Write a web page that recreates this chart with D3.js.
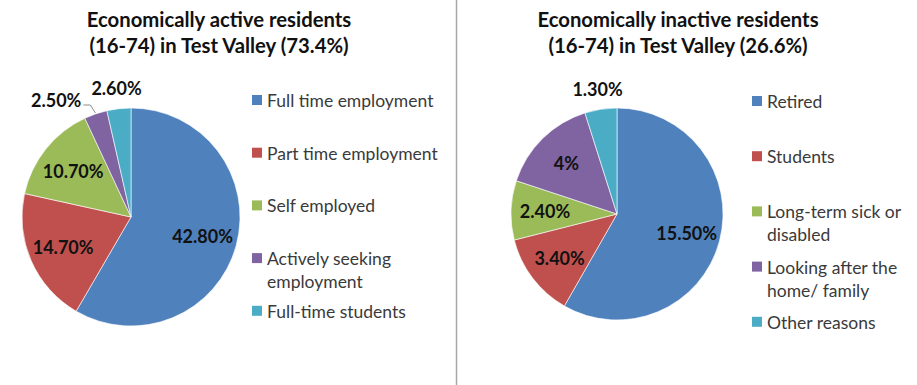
<!DOCTYPE html>
<html>
<head>
<meta charset="utf-8">
<script src="https://cdn.jsdelivr.net/npm/d3@7"></script>
<style>
  body { margin: 0; background: #fff; }
  svg { display: block; font-family: Lato, "Open Sans", sans-serif; }
</style>
</head>
<body>
<svg id="chart" width="917" height="385"></svg>
<script>
// Economically active residents
const activeTitle = ["Economically active residents", "(16-74) in Test Valley (73.4%)"];
const activeCategories = ["Full time employment", "Part time employment", "Self employed", "Actively seeking employment", "Full-time students"];
const activeValues = [42.8, 14.7, 10.7, 2.5, 2.6];
const activeLabels = ["42.80%", "14.70%", "10.70%", "2.50%", "2.60%"];

// Economically inactive residents
const inactiveTitle = ["Economically inactive residents", "(16-74) in Test Valley (26.6%)"];
const inactiveCategories = ["Retired", "Students", "Long-term sick or disabled", "Looking after the home/ family", "Other reasons"];
const inactiveValues = [15.5, 3.4, 2.4, 4, 1.3];
const inactiveLabels = ["15.50%", "3.40%", "2.40%", "4%", "1.30%"];

const sliceColors = ["#4F81BD", "#C0504D", "#9BBB59", "#8064A2", "#4BACC6"];

const svg = d3.select("#chart");

// divider between the two panels
svg.append("line")
  .attr("x1", 456.5).attr("x2", 456.5)
  .attr("y1", 0).attr("y2", 385)
  .attr("stroke", "#a6a6a6").attr("stroke-width", 1.5);

const panels = [
  { title: activeTitle, cats: activeCategories, vals: activeValues, labels: activeLabels,
    cx: 131, cy: 217, r: 109, titleX: 219, legendX: 252, legendTop: 100, legendStep: 52.7, legendRight: 452 },
  { title: inactiveTitle, cats: inactiveCategories, vals: inactiveValues, labels: inactiveLabels,
    cx: 617, cy: 214, r: 106, titleX: 678, legendX: 752, legendTop: 101, legendStep: 55.2, legendRight: 914 }
];

const color = d3.scaleOrdinal().range(sliceColors);

function wrapLines(textSel, str, maxW) {
  const words = str.split(" ");
  const lines = [];
  let cur = "";
  const probe = textSel.append("tspan");
  words.forEach(w => {
    const tryStr = cur ? cur + " " + w : w;
    probe.text(tryStr);
    if (probe.node().getComputedTextLength() > maxW && cur) {
      lines.push(cur);
      cur = w;
    } else {
      cur = tryStr;
    }
  });
  lines.push(cur);
  probe.remove();
  return lines;
}

panels.forEach(p => {
  const g = svg.append("g");
  color.domain(p.cats);

  // title
  const t = g.append("text")
    .attr("x", p.titleX).attr("text-anchor", "middle")
    .attr("font-weight", "bold").attr("font-size", 20.3).attr("fill", "#111");
  p.title.forEach((line, i) => {
    t.append("tspan").attr("x", p.titleX).attr("y", 27 + i * 26).text(line);
  });

  // pie
  const pie = d3.pie().sort(null).value(d => d.v);
  const arcs = pie(p.cats.map((c, i) => ({ c, v: p.vals[i], label: p.labels[i] })));
  const arc = d3.arc().innerRadius(0).outerRadius(p.r);
  const total = d3.sum(p.vals);

  const pg = g.append("g").attr("transform", `translate(${p.cx},${p.cy})`);
  pg.selectAll("path.slice").data(arcs).join("path")
    .attr("class", "slice")
    .attr("d", arc)
    .attr("fill", d => color(d.data.c))
    .attr("stroke", "#ffffff").attr("stroke-opacity", 0.6).attr("stroke-width", 1);

  // data labels: inside for big slices, outside for thin ones
  const inside = d3.arc().innerRadius(p.r * 0.68).outerRadius(p.r * 0.68);
  const outside = d3.arc().innerRadius(p.r + 21).outerRadius(p.r + 21);
  const edge = d3.arc().innerRadius(p.r + 1).outerRadius(p.r + 1);

  const labelData = arcs.map(d => {
    const isIn = d.data.v / total >= 0.05;
    const [x, y] = (isIn ? inside : outside).centroid(d);
    return { d, x, y, isIn, shifted: false };
  });

  const lt = pg.selectAll("text.lbl").data(labelData).join("text")
    .attr("class", "lbl")
    .attr("text-anchor", "middle").attr("dominant-baseline", "central")
    .attr("font-weight", "bold").attr("font-size", 18).attr("fill", "#111")
    .attr("x", d => d.x).attr("y", d => d.y)
    .text(d => d.d.data.label);

  // push overlapping outside labels leftwards and give them a leader line
  const nodes = lt.nodes();
  for (let i = labelData.length - 2; i >= 0; i--) {
    const a = labelData[i], b = labelData[i + 1];
    if (a.isIn || b.isIn) continue;
    const wa = nodes[i].getComputedTextLength(), wb = nodes[i + 1].getComputedTextLength();
    const aRight = a.x + wa / 2, bLeft = b.x - wb / 2;
    if (aRight > bLeft - 8) {
      a.x = bLeft - 10 - wa / 2;
      a.y += 6;
      a.shifted = true;
      a.w = wa;
      d3.select(nodes[i]).attr("x", a.x).attr("y", a.y);
    }
  }
  labelData.filter(l => l.shifted).forEach(l => {
    const [ex, ey] = edge.centroid(l.d);
    const sx = l.x + l.w / 2 + 2, sy = l.y + 5;
    pg.append("path")
      .attr("d", d3.line()([[sx, sy], [sx + 7, sy], [ex, ey]]))
      .attr("fill", "none").attr("stroke", "#8c8c8c").attr("stroke-width", 1);
  });

  // legend
  const ly = d3.scalePoint().domain(p.cats).range([p.legendTop, p.legendTop + p.legendStep * (p.cats.length - 1)]);
  const lg = g.selectAll("g.leg").data(p.cats).join("g").attr("class", "leg");
  lg.append("rect")
    .attr("x", p.legendX).attr("y", c => ly(c) - 5)
    .attr("width", 10).attr("height", 10)
    .attr("fill", c => color(c));
  lg.each(function (c) {
    const txt = d3.select(this).append("text")
      .attr("font-size", 17.5).attr("fill", "#3a3a3a")
      .attr("dominant-baseline", "central");
    const x0 = p.legendX + 15;
    const lines = wrapLines(txt, c, p.legendRight - x0);
    lines.forEach((ln, i) => {
      txt.append("tspan").attr("x", x0).attr("y", ly(c) + i * 23).text(ln);
    });
  });
});
</script>
</body>
</html>
